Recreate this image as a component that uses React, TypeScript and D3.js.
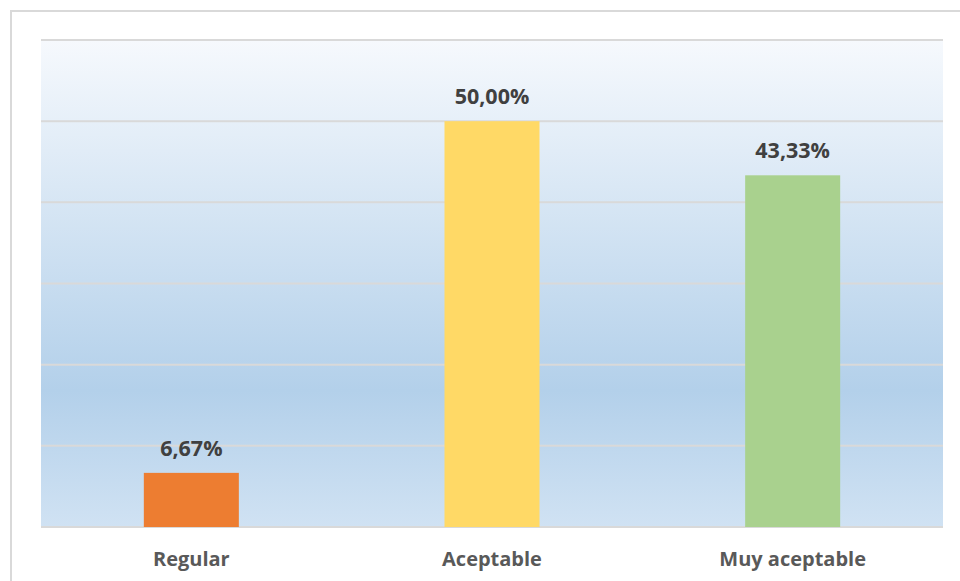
import React from "react";
import * as d3 from "d3";

const categories = ["Regular", "Aceptable", "Muy aceptable"];
const values = [6.67, 50.0, 43.33];
const labels = ["6,67%", "50,00%", "43,33%"];
const colors = ["#ED7D31", "#FFD966", "#A9D18E"];
const yTicks = [0, 10, 20, 30, 40, 50, 60];

export default function App() {
  const W = 960, H = 581;
  const left = 41, right = 943, top = 40, bottom = 527;
  const x = d3.scaleBand<string>().domain(categories).range([left, right]).paddingInner(0.684).paddingOuter(0.342);
  const y = d3.scaleLinear().domain([0, 60]).range([bottom, top]);
  const font = "'Open Sans', Lato, sans-serif";
  return (
    <svg width={W} height={H} style={{ position: "absolute", left: 0, top: 0, background: "#fff" }}>
      <defs>
        <linearGradient id="bg" x1="0" y1="0" x2="0" y2="1">
          <stop offset="0" stopColor="#f6f9fd" />
          <stop offset="0.72" stopColor="#b3d0ea" />
          <stop offset="1" stopColor="#d0e2f3" />
        </linearGradient>
      </defs>
      <rect x={11} y={11} width={W + 20} height={H + 20} fill="#fff" stroke="#d9d9d9" strokeWidth={2} />
      <rect x={left} y={top} width={right - left} height={bottom - top} fill="url(#bg)" />
      {yTicks.map((t) => (
        <line key={t} x1={left} x2={right} y1={y(t)} y2={y(t)} stroke="#d9d9d9" strokeWidth={2} />
      ))}
      {categories.map((c, i) => (
        <g key={c}>
          <rect x={x(c)} y={y(values[i])} width={x.bandwidth()} height={y(0) - y(values[i])} fill={colors[i]} />
          <text x={x(c)! + x.bandwidth() / 2} y={y(values[i]) - 17} textAnchor="middle" fontFamily={font} fontWeight="bold" fontSize={21.5} fill="#404040">
            {labels[i]}
          </text>
          <text x={x(c)! + x.bandwidth() / 2} y={566} textAnchor="middle" fontFamily={font} fontWeight="bold" fontSize={20} fill="#595959">
            {c}
          </text>
        </g>
      ))}
    </svg>
  );
}
